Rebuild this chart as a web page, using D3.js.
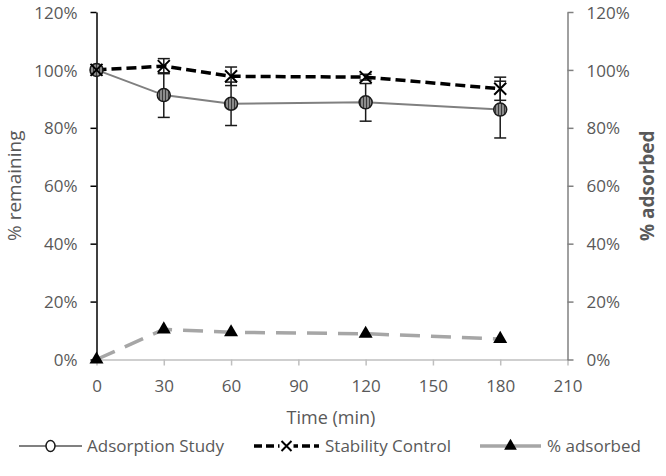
<!DOCTYPE html>
<html><head><meta charset="utf-8">
<script src="https://cdn.jsdelivr.net/npm/d3@7"></script>
<style>body{margin:0;background:#fff}</style>
</head><body>
<svg id="chart" width="666" height="476"></svg>
<script>
const times = [0, 30, 60, 120, 180];
const adsorption = [100, 91.3, 88.3, 88.8, 86.3];
const adsorptionErr = [1, 7.7, 7.5, 6.5, 9.8];
const stability = [100, 101.3, 97.8, 97.5, 93.5];
const stabilityErr = [0.6, 2.6, 3.2, 1, 4];
const adsorbed = [0, 10.4, 9.4, 8.9, 7.1];
const xTicks = [0, 30, 60, 90, 120, 150, 180, 210];
const yTicks = [0, 20, 40, 60, 80, 100, 120];

const svg = d3.select("#chart");
const font = "'Open Sans', sans-serif";
const x = d3.scaleLinear().domain([0, 210]).range([96.5, 567.5]);
const y = d3.scaleLinear().domain([0, 120]).range([359.5, 12]);
const y2 = d3.scaleLinear().domain([0, 120]).range([359.5, 12]);

// pattern for hatched circles
const defs = svg.append("defs");
const pat = defs.append("pattern").attr("id","hatch").attr("patternUnits","userSpaceOnUse")
  .attr("width",3).attr("height",3);
pat.append("rect").attr("width",3).attr("height",3).attr("fill","#8c8c8c");
pat.append("rect").attr("width",1).attr("height",3).attr("fill","#3a3a3a");

// x axis
const xAxis = svg.append("g").attr("transform",`translate(0,${y(0)})`)
  .call(d3.axisBottom(x).tickValues(xTicks).tickSize(6).tickSizeOuter(0).tickPadding(14));
xAxis.select(".domain").attr("stroke","#bfbfbf").attr("stroke-width",1.5);
xAxis.selectAll(".tick line").attr("stroke","#bfbfbf").attr("stroke-width",1.5);
xAxis.selectAll("text").attr("fill","#595959").style("font-family",font).style("font-size","17px");

// left axis
const yAxis = svg.append("g").attr("transform",`translate(${x(0)},0)`)
  .call(d3.axisLeft(y).tickValues(yTicks).tickFormat(d=>d+"%").tickSize(6).tickSizeOuter(0).tickPadding(13));
yAxis.select(".domain").attr("stroke","#000").attr("stroke-width",1.5);
yAxis.selectAll(".tick line").attr("stroke","#000").attr("stroke-width",1.5);
yAxis.selectAll("text").attr("fill","#595959").attr("dy","0.36em").style("font-family",font).style("font-size","17px");

// right axis
const yAxis2 = svg.append("g").attr("transform",`translate(${x(210)},0)`)
  .call(d3.axisRight(y2).tickValues(yTicks).tickFormat(d=>d+"%").tickSize(6).tickSizeOuter(0).tickPadding(13));
yAxis2.select(".domain").attr("stroke","#808080").attr("stroke-width",1.5);
yAxis2.selectAll(".tick line").attr("stroke","#808080").attr("stroke-width",1.5);
yAxis2.selectAll("text").attr("fill","#595959").attr("dy","0.36em").style("font-family",font).style("font-size","17px");

// axis titles
svg.append("text").attr("transform",`translate(21,${(y(0)+y(120))/2}) rotate(-90)`)
  .attr("text-anchor","middle").attr("fill","#595959").style("font-family",font).style("font-size","19px")
  .text("% remaining");
svg.append("text").attr("transform",`translate(654,${(y(0)+y(120))/2}) rotate(-90)`)
  .attr("text-anchor","middle").attr("fill","#595959").style("font-family",font).style("font-size","19px").style("font-weight","bold")
  .text("% adsorbed");
svg.append("text").attr("x",331).attr("y",424).attr("text-anchor","middle").attr("fill","#595959")
  .style("font-family",font).style("font-size","18px").text("Time (min)");

const line = d3.line();

// % adsorbed
svg.append("path").attr("d", line(times.map((t,i)=>[x(t), y2(adsorbed[i])])))
  .attr("fill","none").attr("stroke","#a6a6a6").attr("stroke-width",3.5).attr("stroke-dasharray","20,11");

// adsorption line
svg.append("path").attr("d", line(times.map((t,i)=>[x(t), y(adsorption[i])])))
  .attr("fill","none").attr("stroke","#808080").attr("stroke-width",2);
// stability line
svg.append("path").attr("d", line(times.map((t,i)=>[x(t), y(stability[i])])))
  .attr("fill","none").attr("stroke","#000").attr("stroke-width",3.5).attr("stroke-dasharray","10,5");

// error bars
function errBars(vals, errs){
  const g = svg.append("g").attr("stroke","#1a1a1a").attr("stroke-width",1.5);
  times.forEach((t,i)=>{
    const cx = x(t), top = y(vals[i]+errs[i]), bot = y(vals[i]-errs[i]);
    g.append("line").attr("x1",cx).attr("x2",cx).attr("y1",top).attr("y2",bot);
    g.append("line").attr("x1",cx-6).attr("x2",cx+6).attr("y1",top).attr("y2",top);
    g.append("line").attr("x1",cx-6).attr("x2",cx+6).attr("y1",bot).attr("y2",bot);
  });
}
errBars(adsorption, adsorptionErr);
errBars(stability, stabilityErr);

// markers
function circleMark(g, cx, cy){
  g.append("circle").attr("cx",cx).attr("cy",cy).attr("r",6.5).attr("fill","url(#hatch)").attr("stroke","#1a1a1a").attr("stroke-width",1.5);
}
function xMark(g, cx, cy, s){
  g.append("path").attr("d",`M${cx-s},${cy-s}L${cx+s},${cy+s}M${cx-s},${cy+s}L${cx+s},${cy-s}`)
    .attr("stroke","#000").attr("stroke-width",2).attr("fill","none");
}
function triMark(g, cx, cy, sz){
  g.append("path").attr("d", d3.symbol().type(d3.symbolTriangle).size(sz)()).attr("transform",`translate(${cx},${cy})`).attr("fill","#000");
}
const mg = svg.append("g");
times.forEach((t,i)=>circleMark(mg, x(t), y(adsorption[i])));
times.forEach((t,i)=>xMark(mg, x(t), y(stability[i]), 6));
times.forEach((t,i)=>triMark(mg, x(t), y2(adsorbed[i]), 85));

// legend
const lg = svg.append("g");
const ly = 446;
const legendItems = [
  {label:"Adsorption Study", x0:19, x1:82, tx:87},
  {label:"Stability Control", x0:254, x1:319, tx:325},
  {label:"% adsorbed", x0:480, x1:541, tx:547}
];
// sample 1
lg.append("line").attr("x1",legendItems[0].x0).attr("x2",legendItems[0].x1).attr("y1",ly).attr("y2",ly).attr("stroke","#808080").attr("stroke-width",2);
lg.append("ellipse").attr("cx",(legendItems[0].x0+legendItems[0].x1)/2).attr("cy",ly).attr("rx",4.5).attr("ry",5.5).attr("fill","#fff").attr("stroke","#1a1a1a").attr("stroke-width",1.5);
// sample 2
lg.append("line").attr("x1",legendItems[1].x0).attr("x2",legendItems[1].x1).attr("y1",ly).attr("y2",ly).attr("stroke","#000").attr("stroke-width",3.5).attr("stroke-dasharray","8,4");
lg.append("rect").attr("x",(legendItems[1].x0+legendItems[1].x1)/2-7).attr("y",ly-8).attr("width",14).attr("height",16).attr("fill","#fff");
xMark(lg, (legendItems[1].x0+legendItems[1].x1)/2, ly, 5);
// sample 3
lg.append("line").attr("x1",legendItems[2].x0).attr("x2",legendItems[2].x1).attr("y1",ly).attr("y2",ly).attr("stroke","#a6a6a6").attr("stroke-width",3.5);
triMark(lg, (legendItems[2].x0+legendItems[2].x1)/2, ly, 70);
legendItems.forEach(d=>{
  lg.append("text").attr("x",d.tx).attr("y",ly).attr("dy","0.35em").attr("fill","#595959")
    .style("font-family",font).style("font-size","17px").text(d.label);
});
</script>
</body></html>
